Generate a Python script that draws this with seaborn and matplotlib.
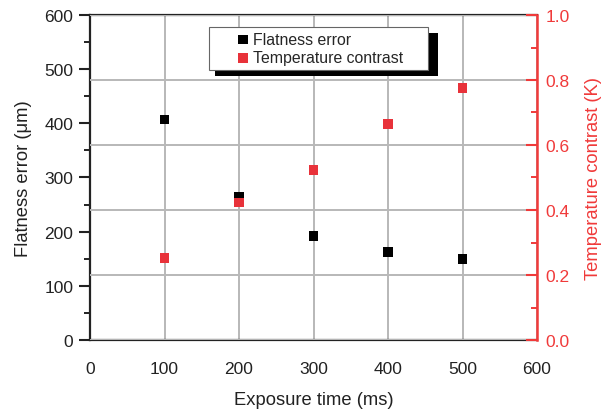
import matplotlib
matplotlib.use("Agg")
import matplotlib.pyplot as plt
import seaborn as sns
import pandas as pd
from matplotlib.ticker import MultipleLocator
from matplotlib.patches import Rectangle
from matplotlib.collections import PathCollection
from matplotlib.legend_handler import HandlerPathCollection

exposure_ms = [100, 200, 300, 400, 500]
flatness_um = [407, 265, 192, 162, 149]
temp_contrast_K = [0.252, 0.423, 0.524, 0.665, 0.775]

df = pd.DataFrame({"t": exposure_ms, "flat": flatness_um, "temp": temp_contrast_K})

sns.set_style("white")
plt.rcParams["font.family"] = ["Liberation Sans", "DejaVu Sans"]

RED = "#e8323a"
AXRED = "#f03a3a"
GRID = "#b8b8b8"
DARK = "#222222"

fig = plt.figure(figsize=(6.08, 4.10), dpi=100)
ax = fig.add_axes([90 / 608, 1 - 341 / 410, (537 - 90) / 608, (341 - 16) / 410])
ax2 = ax.twinx()

ax.set_xlim(0, 600)
ax.set_ylim(0, 600)
ax2.set_ylim(0, 1.0)

ax.xaxis.set_major_locator(MultipleLocator(100))
ax.xaxis.set_minor_locator(MultipleLocator(50))
ax.yaxis.set_major_locator(MultipleLocator(100))
ax.yaxis.set_minor_locator(MultipleLocator(50))
ax2.yaxis.set_major_locator(MultipleLocator(0.2))
ax2.yaxis.set_minor_locator(MultipleLocator(0.1))

# vertical grid on the lower axes, horizontal grid from the right axis
ax.grid(axis="x", which="major", color=GRID, lw=1.4)
ax.grid(axis="y", visible=False)
ax.set_axisbelow(True)
ax2.grid(axis="y", which="major", color=GRID, lw=1.4)
ax2.set_axisbelow(True)

sns.scatterplot(data=df, x="t", y="flat", ax=ax, marker="s", s=48,
                color="black", edgecolor="none", zorder=5, label="Flatness error", legend=False)
sns.scatterplot(data=df, x="t", y="temp", ax=ax2, marker="s", s=48,
                color=RED, edgecolor="none", zorder=5, label="Temperature contrast", legend=False)

fs = 12.5
lfs = 13.2
ax.set_xlabel("Exposure time (ms)", fontsize=lfs, color=DARK, labelpad=11)
ax.set_ylabel("Flatness error (\u03bcm)", fontsize=lfs, color=DARK, labelpad=9)
ax2.set_ylabel("Temperature contrast (K)", fontsize=lfs, color=AXRED, labelpad=11)
ax2.set_yticks([0, 0.2, 0.4, 0.6, 0.8, 1.0])
ax2.set_yticklabels(["0.0", "0.2", "0.4", "0.6", "0.8", "1.0"])

for s in ["left", "bottom", "top"]:
    ax.spines[s].set_color(DARK)
    ax.spines[s].set_linewidth(1.6)
    ax2.spines[s].set_visible(False)
ax.spines["right"].set_visible(False)
ax2.spines["right"].set_color(AXRED)
ax2.spines["right"].set_linewidth(1.8)

ax.tick_params(axis="x", which="major", direction="inout", length=10, width=1.5,
               labelsize=fs, colors=DARK, pad=10)
ax.tick_params(axis="x", which="minor", direction="out", length=4, width=1.4, colors=DARK)
ax.tick_params(axis="y", which="major", direction="out", length=8, width=1.5,
               labelsize=fs, colors=DARK, pad=4)
ax.tick_params(axis="y", which="minor", direction="out", length=4, width=1.4, colors=DARK)
ax2.tick_params(axis="y", which="major", direction="in", length=8, width=1.5,
                labelsize=fs, colors=AXRED, pad=6)
ax2.tick_params(axis="y", which="minor", direction="in", length=4, width=1.4, colors=AXRED)

h1, l1 = ax.get_legend_handles_labels()
h2, l2 = ax2.get_legend_handles_labels()
leg = ax2.legend(h1 + h2, l1 + l2, loc="upper left",
                 bbox_to_anchor=(209 / 608, 1 - 28 / 410, (428 - 209) / 608, 0.0),
                 bbox_transform=fig.transFigure, mode="expand",
                 fontsize=11.4, frameon=True, fancybox=False, edgecolor="#666666",
                 framealpha=1, handletextpad=0.1, borderpad=0.3, labelspacing=0.2,
                 handlelength=2.35, borderaxespad=0,
                 handler_map={PathCollection: HandlerPathCollection(xpad=1.33)})
leg.get_frame().set_linewidth(0.8)
leg.set_zorder(20)

fig.canvas.draw()
bb = leg.get_window_extent()
shadow = Rectangle((bb.x0 + 6, bb.y0 - 6), bb.width + 4, bb.height, transform=None,
                   facecolor="black", edgecolor="none", zorder=19)
ax2.add_artist(shadow)

fig.savefig("out.png", dpi=100)
